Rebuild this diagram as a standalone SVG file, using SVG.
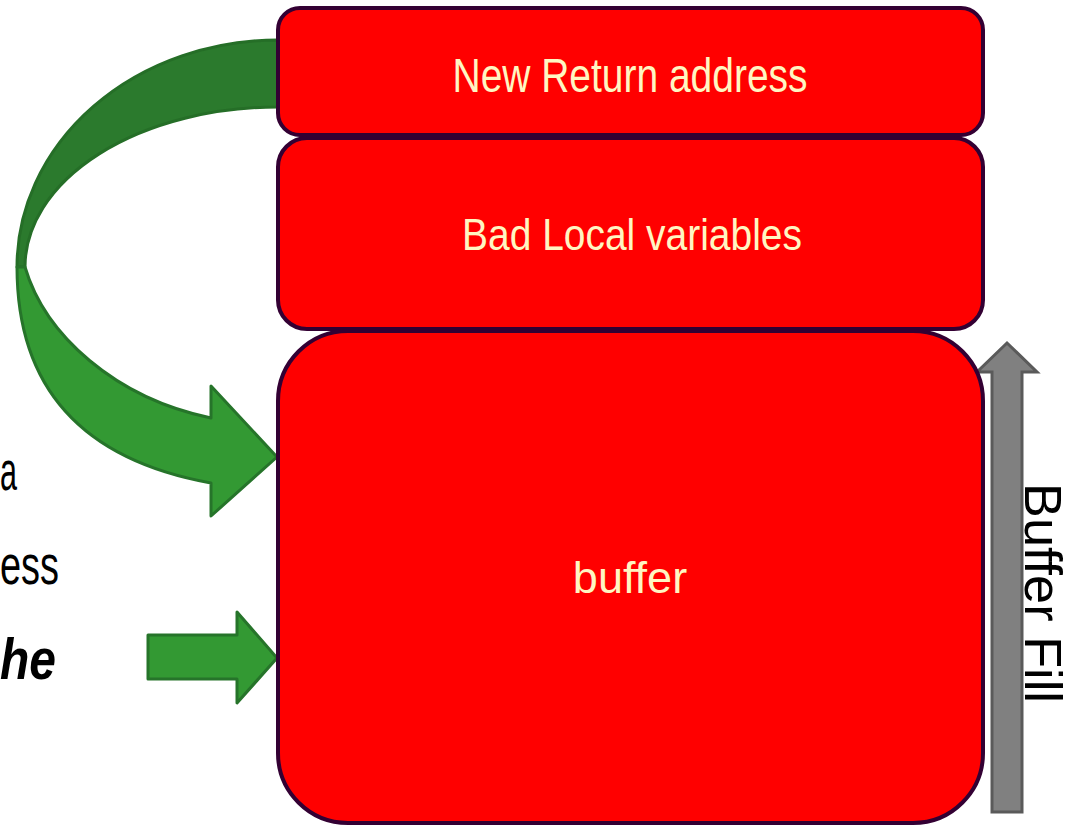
<svg xmlns="http://www.w3.org/2000/svg" width="1076" height="827" viewBox="0 0 1076 827">
<style>
.box{fill:#FF0000;stroke:#330033;stroke-width:4}
.lbl{font-family:"Liberation Sans",Arial,sans-serif;fill:#FFF6C2;text-anchor:middle}
.side{font-family:"Liberation Sans",Arial,sans-serif;fill:#000000}
.back{fill:#2B7A2D;stroke:#256E27;stroke-width:3;stroke-linejoin:round}
.front{fill:#339933;stroke:#26742A;stroke-width:3;stroke-linejoin:round}
.gray{fill:#808080;stroke:#5A5A5A;stroke-width:3}
</style>
<rect width="1076" height="827" fill="#FFFFFF"/>
<g id="side-text">
<text class="side" x="0" y="490" font-size="56" textLength="17" lengthAdjust="spacingAndGlyphs">a</text>
<text class="side" x="0" y="584" font-size="56" textLength="59" lengthAdjust="spacingAndGlyphs">ess</text>
<text class="side" x="0" y="679" font-size="58" font-weight="bold" font-style="italic" textLength="56" lengthAdjust="spacingAndGlyphs">he</text>
</g>
<g id="connectors">
<path class="back" d="M 278,40 A 261,227 0 0 0 17,267 L 25,267 A 253,160 0 0 1 278,107 Z"/>
<path class="front" d="M 17,267 C 17,400 95,462 211,483 L 211,516 L 277,457 L 211,386 L 211,418 C 115,398 45,335 25,267 Z"/>
<polygon class="front" points="148,635 237,635 237,612 277,658 237,703 237,679 148,679"/>
<polygon class="gray" points="992,812 992,372 977,372 1007,343 1037,372 1022,372 1022,812"/>
<text class="side" transform="translate(1025,593) rotate(90)" font-size="52" text-anchor="middle" textLength="220" lengthAdjust="spacingAndGlyphs">Buffer Fill</text>
</g>
<g id="node-return">
<rect class="box" x="278" y="8" width="705" height="127" rx="22" ry="22"/>
<text class="lbl" x="630" y="92" font-size="48" textLength="355" lengthAdjust="spacingAndGlyphs">New Return address</text>
</g>
<g id="node-locals">
<rect class="box" x="278" y="138" width="705" height="191" rx="29" ry="29"/>
<text class="lbl" x="632" y="250" font-size="45" textLength="340" lengthAdjust="spacingAndGlyphs">Bad Local variables</text>
</g>
<g id="node-buffer">
<rect class="box" x="278" y="331" width="705" height="492" rx="70" ry="70"/>
<text class="lbl" x="630" y="593" font-size="45">buffer</text>
</g>
</svg>
